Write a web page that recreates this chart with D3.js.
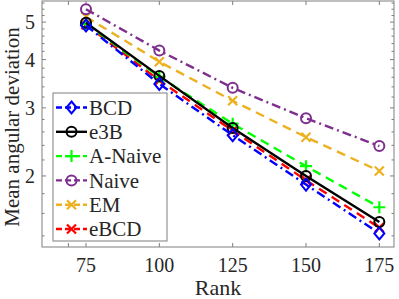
<!DOCTYPE html>
<html>
<head>
<meta charset="utf-8">
<script src="https://cdnjs.cloudflare.com/ajax/libs/d3/7.8.5/d3.min.js"></script>
<style>
  body { margin: 0; background: #fff; }
  svg { display: block; }
</style>
</head>
<body>
<div id="chart"></div>
<script>
// Data
var ranks = [75, 100, 125, 150, 175];
var bcd    = [4.90, 3.46, 2.55, 1.90, 1.42];
var e3b    = [4.98, 3.63, 2.66, 2.00, 1.52];
var aNaive = [4.95, 3.61, 2.73, 2.12, 1.66];
var naive  = [5.40, 4.22, 3.38, 2.82, 2.39];
var em     = [5.16, 3.95, 3.13, 2.52, 2.06];
var ebcd   = [4.92, 3.53, 2.62, 1.95, 1.47];
var xTicks = [75, 100, 125, 150, 175];
var yTicks = [2, 3, 4, 5];
var yMinor = [1.4, 1.6, 1.8, 2.2, 2.4, 2.6, 2.8, 3.2, 3.4, 3.6, 3.8, 4.2, 4.4, 4.6, 4.8, 5.2, 5.4, 5.6];

var series = [
  { name: "BCD",     values: bcd,    color: "#0000ff", dash: "9,4,2,4", marker: "diamond" },
  { name: "e3B",     values: e3b,    color: "#000000", dash: null,      marker: "circle" },
  { name: "A-Naive", values: aNaive, color: "#00ff00", dash: "9,6",     marker: "plus" },
  { name: "Naive",   values: naive,  color: "#7e2f8e", dash: "9,4,2,4", marker: "circle" },
  { name: "EM",      values: em,     color: "#edb120", dash: "9,6",     marker: "cross" },
  { name: "eBCD",    values: ebcd,   color: "#ff0000", dash: "9,6",     marker: "cross" }
];

var serif = "'Liberation Serif', 'DejaVu Serif', serif";

var margin = { top: 1, right: 5, bottom: 52, left: 42 },
    width = 399 - margin.left - margin.right,
    height = 299 - margin.top - margin.bottom;

var svg = d3.select("#chart").append("svg")
    .attr("width", 399)
    .attr("height", 299)
    .attr("font-family", serif)
    .append("g")
    .attr("transform", "translate(" + margin.left + "," + margin.top + ")");

var x = d3.scaleLinear().domain([60, 180]).range([0, width]);
var y = d3.scaleLog().domain([1.31, 5.67]).range([height, 0]);

var axisColor = "#7f7f7f";

// ticks on all four sides, pointing inward
function drawTicks(vals, len, isX) {
  vals.forEach(function (v) {
    if (isX) {
      svg.append("line").attr("x1", x(v)).attr("x2", x(v)).attr("y1", height).attr("y2", height - len)
        .attr("stroke", axisColor);
      svg.append("line").attr("x1", x(v)).attr("x2", x(v)).attr("y1", 0).attr("y2", len)
        .attr("stroke", axisColor);
    } else {
      svg.append("line").attr("y1", y(v)).attr("y2", y(v)).attr("x1", 0).attr("x2", len)
        .attr("stroke", axisColor);
      svg.append("line").attr("y1", y(v)).attr("y2", y(v)).attr("x1", width).attr("x2", width - len)
        .attr("stroke", axisColor);
    }
  });
}
drawTicks(xTicks.concat([69]), 4, true);
drawTicks(yTicks, 4, false);
drawTicks(yMinor, 2.5, false);

// tick labels
svg.selectAll(".xlab").data(xTicks).enter().append("text")
    .attr("x", function (d) { return x(d); })
    .attr("y", height + 25)
    .attr("text-anchor", "middle")
    .attr("fill", "#262626")
    .style("font-family", serif)
    .style("font-size", "20px")
    .text(function (d) { return d; });

svg.selectAll(".ylab").data(yTicks).enter().append("text")
    .attr("x", -7)
    .attr("y", function (d) { return y(d); })
    .attr("dy", "0.35em")
    .attr("text-anchor", "end")
    .attr("fill", "#262626")
    .style("font-family", serif)
    .style("font-size", "20px")
    .text(function (d) { return d; });

// axis titles
svg.append("text")
    .attr("x", x(120))
    .attr("y", height + 48)
    .attr("text-anchor", "middle")
    .attr("fill", "#262626")
    .style("font-family", serif)
    .style("font-size", "22px")
    .text("Rank");

svg.append("text")
    .attr("transform", "translate(-23," + (height / 2 + 3) + ") rotate(-90)")
    .attr("text-anchor", "middle")
    .attr("fill", "#262626")
    .style("font-family", serif)
    .style("font-size", "21px")
    .text("Mean angular deviation");

// markers
function drawMarker(g, type, cx, cy, color) {
  if (type === "circle") {
    g.append("circle").attr("cx", cx).attr("cy", cy).attr("r", 5)
      .attr("fill", "none").attr("stroke", color).attr("stroke-width", 2);
  } else if (type === "diamond") {
    g.append("path").attr("d", "M" + cx + "," + (cy - 6) + "L" + (cx + 5) + "," + cy + "L" + cx + "," + (cy + 6) + "L" + (cx - 5) + "," + cy + "Z")
      .attr("fill", "none").attr("stroke", color).attr("stroke-width", 2);
  } else if (type === "plus") {
    g.append("path").attr("d", "M" + (cx - 6) + "," + cy + "H" + (cx + 6) + "M" + cx + "," + (cy - 6) + "V" + (cy + 6))
      .attr("stroke", color).attr("stroke-width", 2.2);
  } else if (type === "cross") {
    g.append("path").attr("d", "M" + (cx - 4.5) + "," + (cy - 4.5) + "L" + (cx + 4.5) + "," + (cy + 4.5) + "M" + (cx - 4.5) + "," + (cy + 4.5) + "L" + (cx + 4.5) + "," + (cy - 4.5))
      .attr("stroke", color).attr("stroke-width", 2.2);
  }
}

var line = d3.line()
    .x(function (d, i) { return x(ranks[i]); })
    .y(function (d) { return y(d); });

// draw in reverse so BCD ends on top like the reference
series.slice().reverse().forEach(function (s) {
  var g = svg.append("g");
  g.append("path")
    .attr("d", line(s.values))
    .attr("fill", "none")
    .attr("stroke", s.color)
    .attr("stroke-width", 2.4)
    .attr("stroke-dasharray", s.dash);
  s.values.forEach(function (v, i) {
    drawMarker(g, s.marker, x(ranks[i]), y(v), s.color);
  });
});

// box
svg.append("rect")
    .attr("width", width).attr("height", height)
    .attr("fill", "none").attr("stroke", axisColor).attr("stroke-width", 1);

// legend
var legend = svg.append("g").attr("transform", "translate(11,92)");
legend.append("rect")
    .attr("width", 114).attr("height", 148)
    .attr("fill", "#fff").attr("stroke", axisColor).attr("stroke-width", 1);

var item = legend.selectAll(".item").data(series).enter().append("g")
    .attr("transform", function (d, i) { return "translate(0," + (14.5 + i * 24.3) + ")"; });

item.append("line")
    .attr("x1", 3).attr("x2", 34).attr("y1", 0).attr("y2", 0)
    .attr("stroke", function (d) { return d.color; })
    .attr("stroke-width", 2.4)
    .attr("stroke-dasharray", function (d) { return d.dash ? "6,3" : null; });

item.each(function (d) { drawMarker(d3.select(this), d.marker, 18.5, 0, d.color); });

item.append("text")
    .attr("x", 36)
    .attr("y", 0)
    .attr("dy", "0.35em")
    .attr("fill", "#262626")
    .style("font-family", serif)
    .style("font-size", "21px")
    .text(function (d) { return d.name; });
</script>
</body>
</html>
